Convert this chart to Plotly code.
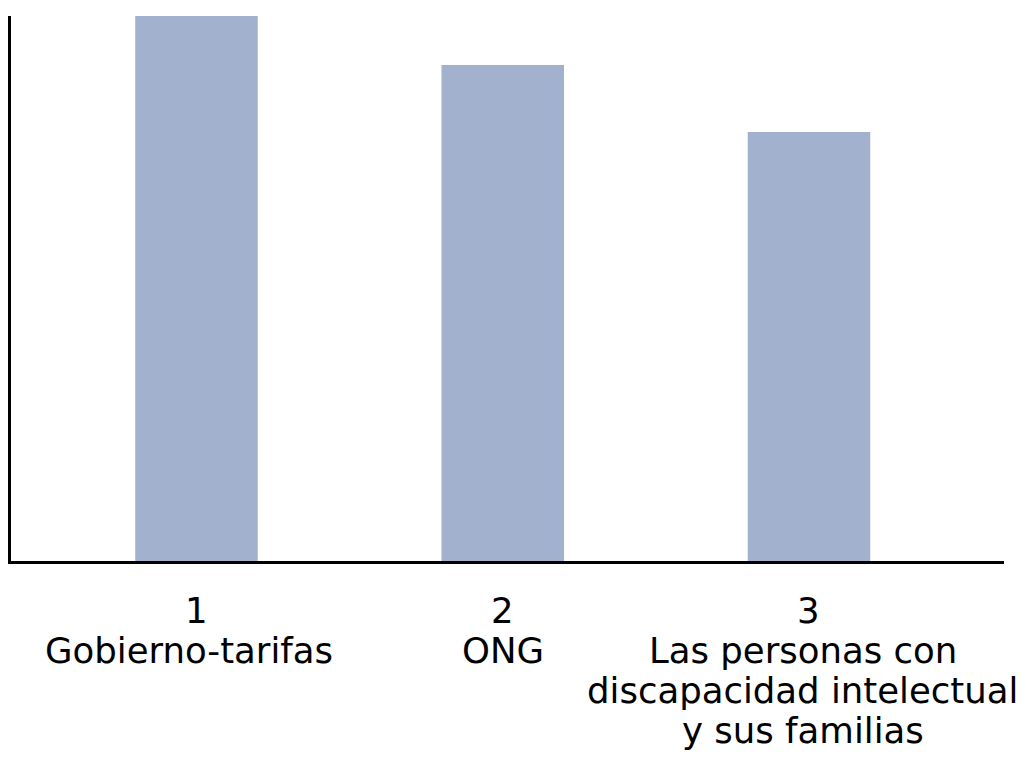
import plotly.graph_objects as go

positions = [1, 2, 3]
tick_numbers = ["1", "2", "3"]
category_lines = [
    ["Gobierno-tarifas"],
    ["ONG"],
    ["Las personas con", "discapacidad intelectual", "y sus familias"],
]
values = [1.0, 0.91, 0.787]

fig = go.Figure(go.Bar(
    x=positions, y=values, width=0.40,
    marker=dict(color="#A2B1CD", line=dict(width=0)),
    hoverinfo="skip",
))

FONT = dict(family="DejaVu Sans", size=35.5, color="black")
LINE_GAP = 40
FIRST_SHIFT = -27
NAME_XSHIFT = {1: -7, 2: 0, 3: -6}

annotations = []
for pos, num, lines in zip(positions, tick_numbers, category_lines):
    for i, txt in enumerate([num] + lines):
        annotations.append(dict(
            x=pos, y=0, xref="x", yref="paper", text=txt, showarrow=False,
            xanchor="center", yanchor="top", yshift=FIRST_SHIFT - i * LINE_GAP,
            xshift=NAME_XSHIFT[pos] if i > 0 else 0,
            font=FONT,
        ))

# page body has an 8px default margin; figure size and margins compensate for it
fig.update_layout(
    width=1018, height=752,
    margin=dict(l=3, r=22, t=8, b=199, autoexpand=False),
    paper_bgcolor="white", plot_bgcolor="white",
    showlegend=False,
    font=FONT,
    annotations=annotations,
)
fig.update_xaxes(
    range=[0.3943, 3.6368], showticklabels=False, automargin=False,
    showline=True, linecolor="black", linewidth=3, showgrid=False, zeroline=False, ticks="",
)
fig.update_yaxes(
    range=[0, max(values)], showticklabels=False, automargin=False,
    showline=True, linecolor="black", linewidth=3, showgrid=False, zeroline=False, ticks="",
)

fig.write_html("out.html")
